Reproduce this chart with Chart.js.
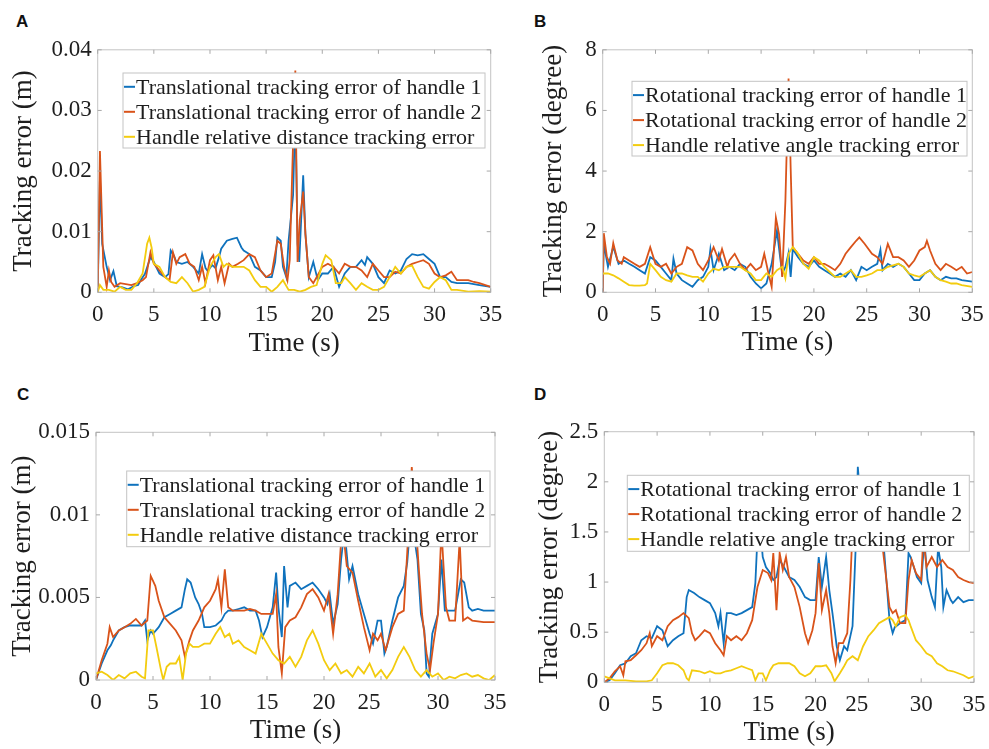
<!DOCTYPE html>
<html>
<head>
<meta charset="utf-8">
<script src="https://cdn.jsdelivr.net/npm/chart.js@4.4.0/dist/chart.umd.min.js"></script>
<style>
  body{margin:0;background:#fff;width:989px;height:749px;position:relative;overflow:hidden}
  canvas{position:absolute}
  .tag{position:absolute;font:bold 17px "Liberation Sans",Arial,sans-serif;line-height:1;color:#111}
</style>
</head>
<body>
<div class="tag" style="left:16px;top:13px">A</div>
<div class="tag" style="left:534px;top:13px">B</div>
<div class="tag" style="left:17px;top:386px">C</div>
<div class="tag" style="left:534px;top:386px">D</div>
<canvas id="chartA" width="510" height="340" style="left:0;top:30px"></canvas>
<canvas id="chartB" width="494" height="340" style="left:495px;top:30px"></canvas>
<canvas id="chartC" width="512" height="349" style="left:0;top:400px"></canvas>
<canvas id="chartD" width="484" height="349" style="left:505px;top:400px"></canvas>
<script>
// time ticks (s) shared by all panels
const timeTicks = ['0','5','10','15','20','25','30','35'];
const yTicksA = ['0','0.01','0.02','0.03','0.04'];
const yTicksB = ['0','2','4','6','8'];
const yTicksC = ['0','0.005','0.01','0.015'];
const yTicksD = ['0','0.5','1','1.5','2','2.5'];

const transLabels = ['Translational tracking error of handle 1','Translational tracking error of handle 2','Handle relative distance tracking error'];
const rotLabels = ['Rotational tracking error of handle 1','Rotational tracking error of handle 2','Handle relative angle tracking error'];

// panel A: translational error, trial 1  [time, m]
const aBlue = [[0,0],[0.2,0.019],[0.4,0.008],[0.8,0.0042],[1.1,0.002],[1.4,0.0035],[1.7,0.001],[2.2,0.0008],[2.7,0.0005],[3.2,0.001],[3.6,0.0012],[3.9,0.0022],[4.2,0.003],[4.7,0.0058],[5,0.005],[5.5,0.0031],[6,0.0025],[6.3,0.003],[6.5,0.0069],[6.8,0.006],[7,0.005],[7.5,0.0047],[8,0.005],[8.5,0.0042],[9,0.0031],[9.3,0.0063],[9.6,0.004],[9.8,0.0035],[10.2,0.0045],[10.5,0.004],[10.8,0.0058],[11,0.0072],[11.5,0.0085],[12,0.0088],[12.4,0.009],[12.8,0.0074],[13,0.0069],[13.5,0.0063],[14,0.0042],[14.5,0.0036],[15,0.0025],[15.5,0.0025],[15.8,0.005],[16,0.009],[16.3,0.0085],[16.5,0.0042],[16.8,0.0025],[17,0.0085],[17.4,0.016],[17.6,0.03],[17.8,0.008],[17.95,0.005],[18.3,0.0193],[18.5,0.0096],[18.8,0.0025],[19.2,0.005],[19.6,0.002],[20,0.0031],[20.5,0.0031],[21,0.0042],[21.5,0.0009],[22,0.0031],[22.5,0.0042],[23,0.0042],[23.5,0.0053],[23.8,0.0045],[24,0.0058],[24.5,0.0047],[25,0.0025],[25.5,0.0015],[26,0.0036],[26.5,0.0031],[27,0.0036],[27.5,0.0055],[28,0.0063],[28.5,0.0061],[29,0.0063],[29.5,0.0055],[30,0.0047],[30.5,0.0025],[31,0.0025],[31.5,0.0017],[32,0.0015],[33,0.0015],[34,0.0012],[35,0.0009]];
const aOrange = [[0,0],[0.2,0.0233],[0.5,0.0042],[0.8,0.0009],[1,0.0036],[1.2,0.0017],[1.5,0.0009],[2,0.0015],[3,0.0012],[3.5,0.0015],[4,0.002],[4.3,0.0025],[4.7,0.0066],[5,0.0047],[5.5,0.0036],[6,0.0025],[6.4,0.002],[6.7,0.0066],[7,0.0047],[7.3,0.0058],[7.8,0.0063],[8.2,0.0047],[8.6,0.0042],[9,0.002],[9.3,0.0042],[9.6,0.0015],[10,0.0053],[10.3,0.0061],[10.7,0.002],[11,0.0042],[11.3,0.0015],[11.7,0.0047],[12,0.0042],[12.5,0.0047],[13,0.0053],[13.5,0.0063],[14,0.0058],[14.5,0.0036],[15,0.0025],[15.5,0.0031],[16,0.0085],[16.3,0.008],[16.6,0.0042],[16.9,0.002],[17.1,0.0053],[17.4,0.0247],[17.6,0.0366],[17.8,0.005],[18,0.012],[18.3,0.0166],[18.5,0.0096],[18.8,0.0025],[19.2,0.0015],[19.5,0.0025],[20,0.0042],[20.5,0.0047],[21,0.0042],[21.5,0.0031],[22,0.0047],[22.5,0.0042],[23,0.0042],[23.5,0.0036],[24,0.0025],[24.5,0.0047],[25,0.0036],[25.5,0.0025],[26,0.0025],[26.5,0.0034],[27,0.0031],[27.5,0.0042],[28,0.0047],[28.5,0.005],[29,0.0053],[29.5,0.0047],[30,0.0031],[30.5,0.0025],[31,0.0028],[31.5,0.0034],[32,0.002],[33,0.002],[33.5,0.0017],[34,0.0015],[35,0.0009]];
const aYellow = [[0,0],[0.2,0.0012],[0.5,0.0004],[1,0.0004],[1.5,0.0001],[2,0.0009],[2.5,0.0004],[3,0.0004],[3.5,0.0015],[4,0.0031],[4.4,0.008],[4.6,0.009],[4.8,0.0074],[5,0.0047],[5.5,0.0042],[6,0.0025],[6.5,0.0017],[7,0.0015],[7.5,0.0025],[8,0.0015],[8.5,0.0001],[9,0.0004],[9.5,0.0009],[10,0.0042],[10.5,0.0058],[10.8,0.0063],[11.2,0.0042],[11.5,0.0047],[12,0.0042],[12.5,0.0042],[13,0.0042],[13.5,0.0036],[14,0.002],[14.5,0.0009],[15,0.0009],[15.5,0.0001],[16,0.0009],[16.5,0.002],[17,0.0004],[17.5,0.0004],[18,0.0001],[18.5,0.0004],[19,0.0009],[19.5,0.0012],[20,0.0047],[20.3,0.0061],[20.8,0.0053],[21.2,0.0015],[21.7,0.0015],[22,0.0025],[22.5,0.0015],[23,0.0004],[23.5,0.0015],[24,0.0009],[24.5,0.0004],[25,0.0004],[25.5,0.0009],[26,0.0025],[26.5,0.0042],[27,0.0031],[27.5,0.0042],[28,0.0044],[28.5,0.0025],[29,0.0009],[29.5,0.0006],[30,0.0017],[30.5,0.0025],[31,0.002],[31.5,0.0004],[32,0.0004],[33,0.0001],[34,0.0002],[35,0.0001]];

// panel B: rotational error, trial 1  [time, degree]
const bBlue = [[0,0],[0.1,1.6],[0.5,0.84],[1,1.5],[1.5,0.94],[2,1.05],[2.5,0.94],[3,0.84],[3.5,0.73],[4,0.62],[4.5,1.16],[5,1.05],[5.5,0.84],[6,0.62],[6.5,0.4],[6.7,1.11],[7,0.62],[7.5,0.4],[8,0.29],[8.5,0.18],[9,0.4],[9.5,0.51],[10,0.84],[10.2,1.43],[10.5,0.73],[11,1.27],[11.5,0.73],[12,0.84],[12.5,0.73],[13,0.94],[13.5,0.84],[14,0.51],[14.5,0.29],[15,0.13],[15.5,0.29],[16,0.94],[16.5,2.03],[16.8,1.16],[17,0.62],[17.3,0.84],[17.6,1.3],[17.8,0.51],[18,1.43],[18.5,1.16],[19,0.94],[19.5,0.84],[20,1.05],[20.5,0.84],[21,0.73],[21.5,0.62],[22,0.51],[22.5,0.62],[23,0.51],[23.5,0.73],[24,0.4],[24.5,0.84],[25,0.73],[25.5,0.84],[26,0.94],[26.3,1.4],[26.5,0.73],[27,0.94],[27.5,0.84],[28,0.94],[28.5,0.84],[29,0.62],[29.5,0.4],[30,0.4],[30.5,0.62],[31,0.73],[31.5,0.51],[32,0.4],[32.5,0.51],[33,0.46],[33.5,0.46],[34,0.4],[35,0.35]];
const bOrange = [[0,0],[0.1,1.95],[0.4,1.16],[0.7,0.94],[1,1.62],[1.4,1.05],[1.8,0.94],[2,1.16],[2.5,1.05],[3,0.94],[3.5,0.84],[4,0.94],[4.5,1.49],[5,0.94],[5.5,0.84],[6,0.94],[6.5,0.62],[7,0.84],[7.5,0.94],[8,1.49],[8.5,1.38],[9,0.94],[9.5,0.73],[10,1.05],[10.5,1.49],[11,1.05],[11.3,1.43],[11.8,0.84],[12,1.05],[12.5,1.27],[13,0.94],[13.5,0.73],[14,0.94],[14.5,0.73],[15,0.84],[15.3,1.27],[15.7,0.62],[16,0.18],[16.4,2.46],[16.7,1.92],[17,0.51],[17.3,3.01],[17.6,7.05],[17.8,4.09],[18,1.49],[18.5,1.27],[19,1.05],[19.5,0.94],[20,1.16],[20.5,0.94],[21,0.94],[21.5,0.84],[22,0.73],[22.5,0.94],[23,1.27],[23.5,1.49],[24,1.7],[24.3,1.81],[24.8,1.6],[25.5,1.27],[26,1.16],[26.5,0.94],[27,1.6],[27.5,1.16],[28,1.16],[28.5,1.05],[29,0.84],[29.5,1.05],[30,1.38],[30.5,1.49],[30.7,1.7],[31,1.38],[31.5,0.94],[32,0.73],[32.5,0.94],[33,0.84],[33.5,0.73],[34,0.84],[34.5,0.62],[35,0.67]];
const bYellow = [[0,0.62],[0.5,0.62],[1,0.56],[1.5,0.46],[2,0.35],[2.5,0.24],[3,0.22],[3.5,0.22],[4,0.24],[4.2,0.29],[4.5,0.94],[5,0.73],[5.5,0.51],[6,0.4],[6.5,0.35],[7,0.62],[7.5,0.62],[8,0.56],[8.5,0.51],[9,0.51],[9.5,0.35],[10,0.62],[10.5,0.78],[11,0.73],[11.5,0.84],[12,0.84],[12.5,0.84],[13,0.84],[13.5,0.73],[14,0.62],[14.5,0.4],[15,0.4],[15.5,0.62],[16,0.51],[16.5,0.73],[17,0.84],[17.3,0.46],[17.6,1.27],[18,1.49],[18.5,1.27],[19,0.94],[19.5,0.78],[20,1.16],[20.5,1.05],[21,0.84],[21.5,0.67],[22,0.51],[22.5,0.51],[23,0.62],[23.5,0.73],[24,0.51],[24.5,0.51],[25,0.56],[25.5,0.62],[26,0.73],[26.5,0.73],[27,0.84],[27.5,0.89],[28,0.94],[28.5,0.84],[29,0.62],[29.5,0.56],[30,0.51],[30.5,0.62],[31,0.73],[31.5,0.51],[32,0.4],[32.5,0.35],[33,0.29],[33.5,0.29],[34,0.24],[35,0.18]];

// panel C: translational error, trial 2  [time, m]
const cBlue = [[0,0],[0.5,0.001],[1,0.0018],[1.3,0.0021],[1.5,0.0024],[2,0.003],[2.5,0.0032],[3,0.0033],[3.5,0.0033],[4,0.0033],[4.3,0.0036],[4.5,0.0024],[4.8,0.003],[5,0.0028],[5.5,0.0032],[6,0.0038],[6.5,0.004],[7,0.0042],[7.5,0.0044],[7.8,0.0055],[8,0.0061],[8.3,0.0059],[8.7,0.005],[9,0.0046],[9.3,0.004],[9.5,0.0032],[10,0.0032],[10.5,0.0033],[11,0.0036],[11.3,0.004],[11.6,0.0042],[12,0.0042],[12.5,0.0043],[13,0.0044],[13.5,0.0042],[14,0.0042],[14.3,0.0036],[14.6,0.0026],[15,0.0032],[15.5,0.0044],[15.8,0.0065],[16,0.0044],[16.3,0.0026],[16.5,0.0069],[16.8,0.0044],[17,0.0057],[17.5,0.0059],[18,0.0055],[18.5,0.0057],[19,0.0059],[19.5,0.0055],[20,0.005],[20.3,0.0046],[20.5,0.0052],[20.8,0.0034],[21.2,0.0046],[21.5,0.0073],[21.8,0.0091],[22.2,0.0061],[22.5,0.0069],[23,0.0052],[23.5,0.004],[24,0.0028],[24.3,0.0022],[24.7,0.0036],[25,0.0036],[25.3,0.0016],[25.5,0.002],[26,0.0036],[26.5,0.005],[27,0.0057],[27.3,0.0071],[27.6,0.0097],[27.9,0.0087],[28.2,0.0073],[28.5,0.004],[28.8,0.003],[29,0.0004],[29.2,0.0002],[29.5,0.0028],[30,0.004],[30.3,0.0073],[30.6,0.0042],[31,0.0042],[31.5,0.0042],[32,0.0061],[32.3,0.0059],[32.7,0.0044],[33,0.0042],[33.5,0.0043],[34,0.0042],[35,0.0042]];
const cOrange = [[0,0],[0.5,0.0012],[1,0.0022],[1.2,0.0032],[1.5,0.0026],[2,0.003],[2.5,0.0032],[3,0.0034],[3.5,0.0037],[4,0.0033],[4.5,0.0036],[4.8,0.0063],[5.2,0.0057],[5.5,0.0048],[6,0.0038],[6.5,0.0034],[7,0.003],[7.5,0.0024],[7.8,0.0014],[8.2,0.0024],[8.5,0.003],[9,0.0036],[9.5,0.0044],[10,0.0048],[10.5,0.0055],[10.7,0.0061],[11,0.0044],[11.3,0.0067],[11.6,0.0044],[12,0.0042],[12.5,0.0042],[13,0.0042],[13.5,0.0043],[14,0.0042],[14.5,0.004],[15,0.004],[15.5,0.004],[15.8,0.0052],[16,0.002],[16.3,0.0004],[16.6,0.0032],[17,0.0036],[17.5,0.0038],[18,0.0044],[18.5,0.0052],[19,0.0055],[19.5,0.005],[20,0.0042],[20.4,0.0052],[20.8,0.0028],[21.2,0.0052],[21.6,0.0095],[22,0.0069],[22.5,0.0065],[23,0.0048],[23.5,0.0032],[24,0.0018],[24.3,0.0028],[24.7,0.0024],[25,0.0028],[25.4,0.0018],[26,0.0032],[26.5,0.004],[27,0.0042],[27.3,0.0077],[27.7,0.0129],[28,0.0101],[28.3,0.0069],[28.6,0.004],[29,0.0016],[29.3,0.0006],[29.6,0.0022],[30,0.004],[30.3,0.0091],[30.7,0.0044],[31,0.0036],[31.5,0.0036],[31.9,0.0085],[32.2,0.0036],[32.6,0.0038],[33,0.0036],[34,0.0035],[35,0.0035]];
const cYellow = [[0,0.0004],[0.5,0.0005],[1,0.0003],[1.5,0],[2,0.0003],[2.5,0.0001],[3,0.0004],[3.5,0.0005],[4,0.0002],[4.3,0.0001],[4.6,0.003],[5,0.003],[5.3,0.002],[5.7,0.0006],[5.9,0],[6.2,0.0008],[6.5,0.001],[7,0.001],[7.3,0.0014],[7.6,0],[7.9,0.0016],[8.2,0.0022],[8.5,0.002],[9,0.002],[9.5,0.0022],[10,0.0022],[10.5,0.0028],[10.9,0.0032],[11.3,0.0026],[11.7,0.0028],[12,0.0022],[12.5,0.0024],[13,0.002],[13.5,0.0018],[14,0.0016],[14.5,0.0028],[15,0.0022],[15.5,0.0016],[16,0.0012],[16.5,0.001],[17,0.0014],[17.5,0.0008],[18,0.0014],[18.5,0.0024],[19,0.003],[19.5,0.0022],[20,0.0012],[20.5,0.0006],[21,0.001],[21.5,0.0004],[22,0.0006],[22.5,0.0002],[23,0.0008],[23.5,0.0004],[24,0.001],[24.5,0.0002],[25,0.0006],[25.5,0.0001],[26,0.0006],[26.5,0.0014],[27,0.002],[27.5,0.0014],[28,0.0006],[28.5,0.0002],[29,0.0006],[29.5,0.0002],[30,0.0004],[30.5,0],[31,0.0002],[31.5,0.0001],[32,0.0003],[32.5,0.0004],[33,0.0002],[33.5,0.0003],[34,0.0001],[34.5,0],[35,0.0003]];

// panel D: rotational error, trial 2  [time, degree]
const dBlue = [[0,0],[0.5,0.02],[1,0.09],[1.5,0.17],[2,0.19],[2.5,0.26],[3,0.29],[3.5,0.42],[4,0.46],[4.5,0.44],[5,0.56],[5.5,0.52],[6,0.36],[6.5,0.42],[7,0.46],[7.5,0.49],[7.8,0.85],[8,0.92],[8.5,0.89],[9,0.85],[9.5,0.82],[10,0.79],[10.5,0.69],[10.8,0.56],[11,0.69],[11.3,0.39],[11.6,0.69],[12,0.69],[12.5,0.67],[13,0.69],[13.5,0.72],[14,0.75],[14.3,0.99],[14.5,1.45],[14.8,1.5],[15,1.25],[15.3,1.15],[15.7,1.09],[16,1.02],[16.3,1.05],[16.6,1.22],[17,1.15],[17.5,1.05],[18,1.02],[18.5,0.95],[19,0.85],[19.5,0.82],[20,0.82],[20.3,1.25],[20.6,0.95],[21,1.25],[21.3,0.92],[21.6,0.69],[22,0.36],[22.3,0.22],[22.7,0.36],[23,0.32],[23.5,0.56],[23.8,1.35],[24,2.15],[24.3,1.75],[25,1.8],[25.5,1.7],[26,1.75],[26.5,1.3],[27,0.62],[27.3,0.49],[27.5,0.55],[28,0.59],[28.5,0.62],[28.8,1.29],[29,1.25],[29.3,1.15],[29.6,1.05],[30,0.99],[30.3,1.42],[30.6,1.02],[31,0.85],[31.3,0.75],[31.6,1.35],[31.9,1.15],[32.1,0.75],[32.4,0.92],[32.8,0.82],[33,0.79],[33.5,0.85],[34,0.8],[34.5,0.82],[35,0.82]];
const dOrange = [[0,0],[0.5,0.04],[1,0.11],[1.5,0.16],[1.8,0.07],[2,0.21],[2.5,0.22],[3,0.27],[3.5,0.32],[4,0.39],[4.3,0.49],[4.5,0.36],[5,0.46],[5.5,0.42],[6,0.56],[6.5,0.62],[7,0.65],[7.5,0.69],[8,0.64],[8.3,0.49],[8.6,0.42],[9,0.46],[9.5,0.52],[10,0.49],[10.5,0.39],[11,0.32],[11.3,0.27],[11.6,0.46],[12,0.42],[12.5,0.46],[13,0.42],[13.5,0.49],[14,0.62],[14.5,0.95],[15,1.12],[15.5,1.09],[15.8,1.02],[16,1.29],[16.3,0.72],[16.6,1.29],[16.9,1.12],[17.2,1.25],[17.5,1.05],[18,0.95],[18.5,0.75],[19,0.49],[19.3,0.39],[19.7,0.52],[20,0.69],[20.3,1.19],[20.6,0.72],[21,0.92],[21.3,0.69],[21.6,0.36],[21.9,0.19],[22.2,0.39],[22.6,0.39],[23,0.49],[23.3,1.02],[23.5,1.52],[24,1.8],[25,1.85],[26,1.7],[26.4,1.3],[27,0.75],[27.3,0.69],[27.6,0.72],[28,0.59],[28.5,0.59],[28.8,1.02],[29.1,1.22],[29.5,1.09],[30,1.02],[30.2,1.45],[30.5,1.15],[31,1.25],[31.5,1.15],[32,1.22],[32.5,1.15],[33,1.12],[33.5,1.05],[34,1.02],[34.5,1.0],[35,0.99]];
const dYellow = [[0,0.06],[0.5,0.04],[1,0.02],[2,0.02],[3,0.01],[4,0.01],[4.5,0.02],[5,0.09],[5.5,0.17],[6,0.19],[6.5,0.19],[7,0.17],[7.5,0.12],[7.8,0.04],[8,0.02],[8.3,0.12],[9,0.11],[9.5,0.09],[10,0.11],[10.5,0.09],[11,0.09],[11.5,0.11],[12,0.12],[12.5,0.14],[13,0.16],[13.5,0.14],[14,0.12],[14.3,0.02],[14.6,0.09],[15,0.09],[15.3,0.02],[15.7,0.12],[16,0.17],[16.5,0.19],[17,0.19],[17.5,0.19],[18,0.16],[18.5,0.09],[19,0.06],[19.5,0.09],[20,0.16],[20.5,0.16],[21,0.17],[21.5,0.09],[21.8,0.01],[22.3,0.09],[22.7,0.16],[23,0.22],[23.5,0.26],[24,0.22],[24.5,0.36],[25,0.46],[25.5,0.52],[26,0.59],[26.5,0.62],[27,0.65],[27.3,0.62],[27.6,0.56],[28,0.65],[28.5,0.67],[28.8,0.62],[29,0.56],[29.5,0.42],[30,0.36],[30.5,0.29],[31,0.26],[31.5,0.19],[32,0.16],[32.5,0.12],[33,0.11],[33.5,0.09],[34,0.07],[34.5,0.04],[35,0.06]];

const COLORS = ['#0f72bd', '#d9531a', '#f3cc0f'];
const SERIF = '"Liberation Serif", "Times New Roman", serif';
const INK = '#1e1e1e';

// frame, inward ticks, x tick labels and the in-axes legend
const matlabLook = {
  id: 'matlabLook',
  afterDatasetsDraw(chart, args, o) {
    const {ctx, chartArea: a, scales: {x, y}} = chart;
    ctx.save();
    ctx.lineWidth = 1;
    ctx.strokeStyle = '#c4c4c4';
    ctx.strokeRect(a.left, a.top, a.right - a.left, a.bottom - a.top);
    ctx.strokeStyle = '#a8a8a8';
    ctx.beginPath();
    x.ticks.forEach(t => {
      const px = x.getPixelForValue(t.value);
      ctx.moveTo(px, a.bottom); ctx.lineTo(px, a.bottom - 4);
      ctx.moveTo(px, a.top); ctx.lineTo(px, a.top + 4);
    });
    y.ticks.forEach(t => {
      const py = y.getPixelForValue(t.value);
      ctx.moveTo(a.left, py); ctx.lineTo(a.left + 4, py);
      ctx.moveTo(a.right, py); ctx.lineTo(a.right - 4, py);
    });
    ctx.stroke();

    ctx.fillStyle = INK;
    ctx.font = '23px ' + SERIF;
    ctx.textAlign = 'center';
    ctx.textBaseline = 'alphabetic';
    x.ticks.forEach((t, i) => {
      const px = x.getPixelForValue(t.value) + ((o.shift && o.shift[t.value]) || 0);
      ctx.fillText(timeTicks[i], px, a.bottom + 28.5);
    });

    // legend box
    const L = o.legend;
    ctx.fillStyle = '#fff';
    ctx.fillRect(L.l, L.t, L.w, L.h);
    ctx.strokeStyle = '#c4c4c4';
    ctx.strokeRect(L.l, L.t, L.w, L.h);
    ctx.font = '22px ' + SERIF;
    ctx.textAlign = 'left';
    ctx.textBaseline = 'middle';
    chart.data.datasets.forEach((ds, i) => {
      const cy = L.t + 13.8 + i * 25;
      ctx.strokeStyle = ds.borderColor;
      ctx.lineWidth = 2;
      ctx.beginPath(); ctx.moveTo(L.l + 1, cy); ctx.lineTo(L.l + 12, cy); ctx.stroke();
      ctx.fillStyle = INK;
      ctx.fillText(ds.label, L.l + 13, cy + 1);
    });
    ctx.restore();
  }
};

function makeChart(id, p) {
  const names = p.labels;
  const datasets = p.series.map((s, i) => ({
    label: names[i],
    data: s.map(([t, v]) => ({x: t, y: v})),
    borderColor: COLORS[i],
    borderWidth: 1.8,
    pointRadius: 0,
    tension: 0,
    order: 3 - i
  }));
  const c = p.canvas, a = p.plot;
  return new Chart(document.getElementById(id), {
    type: 'line',
    data: {datasets},
    options: {
      responsive: false,
      animation: false,
      layout: {padding: {top: a.t - c.t, right: c.l + c.w - a.r, left: 0, bottom: 0}},
      plugins: {
        legend: {display: false},
        tooltip: {enabled: false},
        matlabLook: {
          legend: {l: p.legend.l - c.l, t: p.legend.t - c.t, w: p.legend.w, h: p.legend.h},
          shift: p.shift
        }
      },
      scales: {
        x: {
          type: 'linear', min: 0, max: 35,
          ticks: {display: false, stepSize: 5},
          grid: {display: false, drawTicks: false},
          border: {display: false},
          title: {display: true, text: 'Time (s)', color: INK,
                  font: {family: SERIF, size: 27}, padding: {top: 0, bottom: p.xTitlePad}},
          afterFit: s => { s.height = c.t + c.h - a.b; }
        },
        y: {
          min: 0, max: p.yMax,
          ticks: {stepSize: p.yStep, color: INK, padding: 6,
                  font: {family: SERIF, size: 23},
                  callback: (v, i) => p.yTicks[i]},
          grid: {display: false, drawTicks: false},
          border: {display: false},
          title: {display: true, text: p.yTitle, color: INK,
                  font: {family: SERIF, size: 27}, padding: {top: p.yTitlePad, bottom: 0}},
          afterFit: s => { s.width = a.l - c.l; }
        }
      }
    },
    plugins: [matlabLook]
  });
}

makeChart('chartA', {
  canvas: {l: 0, t: 30, w: 510, h: 340}, plot: {l: 97.7, t: 46, r: 490.7, b: 292.3},
  legend: {l: 123, t: 73, w: 362, h: 75},
  series: [aBlue, aOrange, aYellow], labels: transLabels,
  yMax: 0.04, yStep: 0.01, yTicks: yTicksA, yTitle: 'Tracking error (m)',
  yTitlePad: 7.8, xTitlePad: 9.8
});
makeChart('chartB', {
  canvas: {l: 495, t: 30, w: 494, h: 340}, plot: {l: 602.7, t: 46.7, r: 972.3, b: 292.3},
  legend: {l: 632, t: 81.3, w: 335, h: 74.7},
  series: [bBlue, bOrange, bYellow], labels: rotLabels,
  yMax: 8, yStep: 2, yTicks: yTicksB, yTitle: 'Tracking error (degree)',
  yTitlePad: 42.3, xTitlePad: 10.8
});
makeChart('chartC', {
  canvas: {l: 0, t: 400, w: 512, h: 349}, plot: {l: 96, t: 432.3, r: 495, b: 680},
  legend: {l: 126.7, t: 471, w: 363.3, h: 75.7},
  series: [cBlue, cOrange, cYellow], labels: transLabels,
  yMax: 0.015, yStep: 0.005, yTicks: yTicksC, yTitle: 'Tracking error (m)',
  yTitlePad: 6.3, xTitlePad: 1.8, shift: {25: -12}
});
makeChart('chartD', {
  canvas: {l: 505, t: 400, w: 484, h: 349}, plot: {l: 604.3, t: 431.7, r: 974, b: 682.3},
  legend: {l: 627.3, t: 475.3, w: 342, h: 76},
  series: [dBlue, dOrange, dYellow], labels: rotLabels,
  yMax: 2.5, yStep: 0.5, yTicks: yTicksD, yTitle: 'Tracking error (degree)',
  yTitlePad: 28.8, xTitlePad: 0, shift: {25: -11.6}
});
</script>
</body>
</html>
